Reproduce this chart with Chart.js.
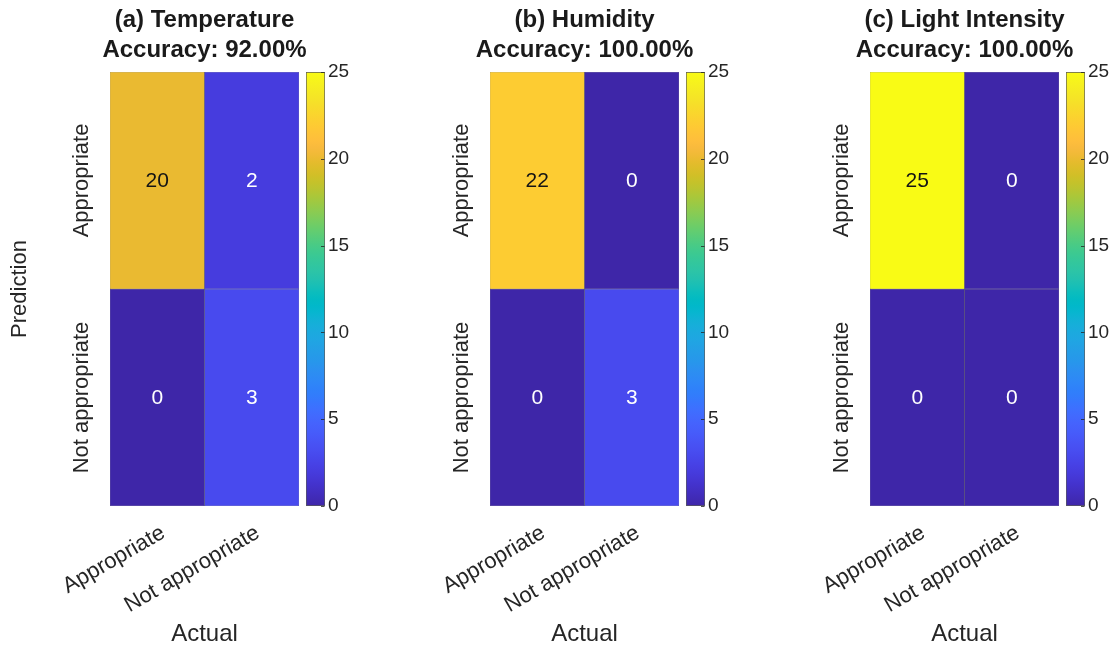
<!DOCTYPE html>
<html>
<head>
<meta charset="utf-8">
<script src="https://cdn.jsdelivr.net/npm/chart.js@4.4.1/dist/chart.umd.min.js"></script>
<style>
  html, body { margin: 0; padding: 0; background: #ffffff; }
  #fig { position: relative; width: 1115px; height: 647px; overflow: hidden; background: #ffffff; }
  #fig canvas { position: absolute; top: 0; }
</style>
</head>
<body>
<div id="fig"></div>
<script>
// ---- data ----
const predictedLabels = ['Appropriate', 'Not appropriate'];   // rows (top to bottom)
const actualLabels = ['Appropriate', 'Not appropriate'];      // columns (left to right)
const panelTitles = ['(a) Temperature', '(b) Humidity', '(c) Light Intensity'];
const temperatureCounts = [[20, 2], [0, 3]];
const humidityCounts = [[22, 0], [0, 3]];
const lightCounts = [[25, 0], [0, 0]];
const colorLimits = [0, 25];
const colorbarTicks = [0, 5, 10, 15, 20, 25];

// ---- style ----
const FONT = '"Liberation Sans", Arial, Helvetica, sans-serif';
const TEXT = '#262626';
const PARULA = [
  [0.2422,0.1504,0.6603],[0.2504,0.1650,0.7076],[0.2578,0.1818,0.7511],[0.2647,0.1978,0.7952],
  [0.2706,0.2147,0.8364],[0.2751,0.2342,0.8710],[0.2783,0.2559,0.8991],[0.2803,0.2782,0.9221],
  [0.2813,0.3006,0.9414],[0.2810,0.3228,0.9579],[0.2795,0.3447,0.9717],[0.2760,0.3667,0.9829],
  [0.2699,0.3892,0.9906],[0.2602,0.4123,0.9952],[0.2440,0.4358,0.9988],[0.2206,0.4603,0.9973],
  [0.1963,0.4847,0.9892],[0.1834,0.5074,0.9798],[0.1786,0.5289,0.9682],[0.1764,0.5499,0.9520],
  [0.1687,0.5703,0.9359],[0.1540,0.5902,0.9218],[0.1460,0.6091,0.9079],[0.1380,0.6276,0.8973],
  [0.1248,0.6459,0.8883],[0.1113,0.6635,0.8763],[0.0952,0.6798,0.8598],[0.0689,0.6948,0.8394],
  [0.0297,0.7082,0.8163],[0.0036,0.7203,0.7917],[0.0067,0.7312,0.7660],[0.0433,0.7411,0.7394],
  [0.0964,0.7500,0.7120],[0.1408,0.7584,0.6842],[0.1717,0.7670,0.6554],[0.1938,0.7758,0.6251],
  [0.2161,0.7843,0.5923],[0.2470,0.7918,0.5567],[0.2906,0.7973,0.5188],[0.3406,0.8008,0.4789],
  [0.3909,0.8029,0.4354],[0.4456,0.8024,0.3909],[0.5044,0.7993,0.3480],[0.5616,0.7942,0.3045],
  [0.6174,0.7876,0.2612],[0.6720,0.7793,0.2227],[0.7242,0.7698,0.1910],[0.7738,0.7598,0.1646],
  [0.8203,0.7498,0.1535],[0.8634,0.7406,0.1596],[0.9035,0.7330,0.1774],[0.9393,0.7288,0.2100],
  [0.9728,0.7298,0.2394],[0.9956,0.7434,0.2371],[0.9970,0.7659,0.2199],[0.9952,0.7893,0.2028],
  [0.9892,0.8136,0.1885],[0.9786,0.8386,0.1766],[0.9676,0.8639,0.1643],[0.9610,0.8890,0.1537],
  [0.9597,0.9135,0.1423],[0.9628,0.9373,0.1265],[0.9691,0.9606,0.1064],[0.9769,0.9839,0.0805]
];

function parulaAt(t) {
  t = Math.max(0, Math.min(1, t));
  const f = t * (PARULA.length - 1);
  const i = Math.min(PARULA.length - 2, Math.floor(f));
  const w = f - i;
  const c = PARULA[i].map((a, k) => a + (PARULA[i + 1][k] - a) * w);
  return 'rgb(' + c.map(v => Math.round(v * 255)).join(',') + ')';
}
function normalized(v) { return (v - colorLimits[0]) / (colorLimits[1] - colorLimits[0]); }
function accuracyText(counts) {
  let hit = 0, total = 0;
  counts.forEach((row, r) => row.forEach((v, c) => { total += v; if (r === c) hit += v; }));
  return 'Accuracy: ' + (100 * hit / total).toFixed(2) + '%';
}

const fig = document.getElementById('fig');
function addCanvas(left, width) {
  const cv = document.createElement('canvas');
  cv.width = width; cv.height = 647;
  cv.style.left = left + 'px';
  cv.style.width = width + 'px'; cv.style.height = '647px';
  fig.appendChild(cv);
  return cv;
}

// titles above the grid, row labels, and the count written in each cell
function heatmapDecor(titleLines) {
  return {
    id: 'heatmapDecor',
    afterDatasetsDraw(chart) {
      const ctx = chart.ctx;
      const area = chart.chartArea;
      const cx = (area.left + area.right) / 2;
      ctx.save();
      // cell counts
      ctx.font = '21px ' + FONT;
      ctx.textAlign = 'center';
      ctx.textBaseline = 'middle';
      chart.data.datasets.forEach((ds, di) => {
        chart.getDatasetMeta(di).data.forEach((el, i) => {
          const v = ds.data[i].v;
          const p = el.getCenterPoint();
          ctx.fillStyle = normalized(v) > 0.5 ? '#141414' : '#ffffff';
          ctx.fillText(String(v), p.x, p.y + 1);
        });
      });
      // titles
      ctx.fillStyle = '#1a1a1a';
      ctx.font = 'bold 24px ' + FONT;
      ctx.fillText(titleLines[0], cx, 20);
      ctx.fillText(titleLines[1], cx, 50);
      // row labels, rotated
      const yScale = chart.scales.yLab;
      ctx.fillStyle = TEXT;
      ctx.font = '22px ' + FONT;
      yScale.ticks.forEach((t, i) => {
        const y = yScale.getPixelForTick(i);
        ctx.save();
        ctx.translate(area.left - 28, y);
        ctx.rotate(-Math.PI / 2);
        ctx.fillText(yScale.getLabelForValue(t.value), 0, 0);
        ctx.restore();
      });
      ctx.restore();
    }
  };
}

const HEAT_CANVAS_W = 380;
function makeHeatmap(left, counts, title, withRowTitle) {
  const cv = addCanvas(left, HEAT_CANVAS_W);
  const nRows = predictedLabels.length;
  const datasets = predictedLabels.map((rowLabel, r) => ({
    label: rowLabel,
    data: actualLabels.map((colLabel, c) => ({ x: colLabel, y: [nRows - r - 1, nRows - r], v: counts[r][c] })),
    backgroundColor: ctx => parulaAt(normalized(ctx.raw.v)),
    borderColor: 'rgba(30,30,30,0.55)',
    borderWidth: 0.5,
    borderSkipped: false,
    barPercentage: 1,
    categoryPercentage: 1,
    grouped: false
  }));
  return new Chart(cv, {
    type: 'bar',
    data: { labels: actualLabels, datasets },
    plugins: [heatmapDecor([title, accuracyText(counts)])],
    options: {
      responsive: false,
      animation: false,
      devicePixelRatio: 1,
      // grid spans 110..299 inside this canvas
      layout: { padding: { top: 72, right: HEAT_CANVAS_W - 299, left: 0, bottom: 0 } },
      plugins: { legend: { display: false }, tooltip: { enabled: false }, title: { display: false } },
      scales: {
        x: {
          type: 'category',
          offset: true,
          grid: { display: false },
          border: { display: false },
          ticks: {
            autoSkip: false, minRotation: 30, maxRotation: 30,
            padding: 6, labelOffset: 6,
            color: TEXT, font: { family: FONT, size: 22 }
          },
          title: {
            display: true, text: 'Actual', color: TEXT,
            font: { family: FONT, size: 24, lineHeight: 1.0 },
            padding: { top: 0, bottom: 1 }
          },
          afterFit: s => { s.height = 141; }
        },
        y: { type: 'linear', min: 0, max: nRows, display: false },
        yLab: {
          type: 'category',
          labels: predictedLabels,
          position: 'left',
          offset: true,
          grid: { display: false },
          border: { display: false },
          ticks: { display: false },
          title: {
            display: withRowTitle, text: 'Prediction', color: TEXT,
            font: { family: FONT, size: 22, lineHeight: 1.2 },
            padding: { top: 7, bottom: 0 }
          },
          afterFit: s => { s.width = 110; }
        }
      }
    }
  });
}

// colour scale bar with its value ticks
const colorbarMarks = {
  id: 'colorbarMarks',
  afterDatasetsDraw(chart) {
    const ctx = chart.ctx;
    const s = chart.scales.y;
    const right = chart.chartArea.right;
    ctx.save();
    ctx.strokeStyle = 'rgba(38,38,38,0.8)';
    ctx.lineWidth = 1;
    s.ticks.forEach(t => {
      const y = Math.round(s.getPixelForValue(t.value)) + 0.5;
      ctx.beginPath();
      ctx.moveTo(right - 4, y);
      ctx.lineTo(right - 0.5, y);
      ctx.stroke();
    });
    ctx.restore();
  }
};

function makeColorbar(left, width) {
  const cv = addCanvas(left, width);
  return new Chart(cv, {
    type: 'bar',
    data: {
      labels: ['scale'],
      datasets: [{
        data: [colorLimits.slice()],
        backgroundColor: ctx => {
          const area = ctx.chart.chartArea;
          if (!area) return 'rgba(0,0,0,0)';
          const g = ctx.chart.ctx.createLinearGradient(0, area.bottom, 0, area.top);
          PARULA.forEach((c, i) => g.addColorStop(i / (PARULA.length - 1),
            'rgb(' + c.map(v => Math.round(v * 255)).join(',') + ')'));
          return g;
        },
        borderColor: '#5a5a5a',
        borderWidth: 1,
        borderSkipped: false,
        barPercentage: 1,
        categoryPercentage: 1
      }]
    },
    plugins: [colorbarMarks],
    options: {
      responsive: false,
      animation: false,
      devicePixelRatio: 1,
      layout: { padding: { top: 72, bottom: 141, left: 10, right: 0 } },
      plugins: { legend: { display: false }, tooltip: { enabled: false } },
      scales: {
        x: { display: false },
        y: {
          position: 'right',
          min: colorLimits[0], max: colorLimits[1],
          afterBuildTicks: s => { s.ticks = colorbarTicks.map(v => ({ value: v })); },
          grid: { display: false, drawTicks: false, tickLength: 0 },
          border: { display: false },
          ticks: { padding: 3, color: TEXT, font: { family: FONT, size: 19 } },
          afterFit: s => { s.width = width - 10 - 19; }
        }
      }
    }
  });
}

const panelCounts = [temperatureCounts, humidityCounts, lightCounts];
const panelLefts = [0, 380, 760];
panelCounts.forEach((counts, i) => {
  makeHeatmap(panelLefts[i], counts, panelTitles[i], i === 0);
});
panelCounts.forEach((counts, i) => {
  const left = panelLefts[i] + 296;
  makeColorbar(left, Math.min(70, 1115 - left));
});
</script>
</body>
</html>
